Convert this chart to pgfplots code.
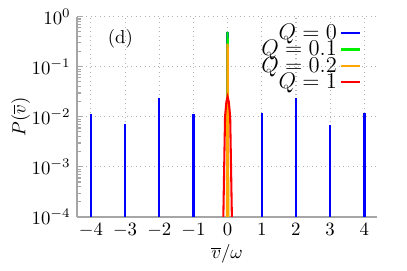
\documentclass[border=0pt]{standalone}
\usepackage{pgfplots}
\pgfplotsset{compat=1.18}
\definecolor{qorange}{RGB}{255,165,0}
\definecolor{qgreen}{RGB}{0,240,0}
\begin{document}
\begin{tikzpicture}
\begin{axis}[
  scale only axis,
  width=159.4pt, height=106.5pt,
  ymode=log,
  xmin=-4.4, xmax=4.37,
  ymin=1e-4, ymax=1,
  axis lines*=left,
  axis line style={gray!70, line width=0.9pt},
  xtick={-4,-3,-2,-1,0,1,2,3,4},
  ytick={1e-4,1e-3,1e-2,1e-1,1},
  xtick style={draw=none},
  ytick style={gray!70, line width=0.6pt},
  major tick length=2.5pt, minor tick length=2pt,
  tick align=inside,
  grid=major,
  major grid style={gray!60, dotted, line width=0.6pt},
  xlabel={$\overline{v}/\omega$},
  ylabel={$P(\overline{v})$},
  xlabel style={yshift=3pt},
  ylabel style={yshift=-6pt},
  unbounded coords=jump,
  legend style={draw=none, fill=none, at={(0.947,0.98)}, anchor=north east,
    row sep=-4.0pt, inner sep=0pt, nodes={inner sep=1.5pt}, font=\large},
  legend cell align=right,
  legend plot pos=right,
  legend image code/.code={\draw[#1, line width=1.2pt] (0pt,0pt) -- (0.35cm,0pt);},
]
\addplot[blue, line width=1.3pt] coordinates {
(-4,1e-5) (-4,0.0115) (-4,nan)
(-3,1e-5) (-3,0.0073) (-3,nan)
(-2,1e-5) (-2,0.024) (-2,nan)
(-1,1e-5) (-1,0.0115) (-1,nan)
(0,1e-5) (0,0.5) (0,nan)
(1,1e-5) (1,0.0117) (1,nan)
(2,1e-5) (2,0.024) (2,nan)
(3,1e-5) (3,0.0069) (3,nan)
(4,1e-5) (4,0.0117)
};
\addlegendentry{$Q=0$}
\addplot[qgreen, line width=1.2pt] coordinates {
(-0.012,1e-5) (0,0.5) (0.012,1e-5)
};
\addlegendentry{$Q=0.1$}
\addplot[qorange, line width=1.2pt] coordinates {
(-0.025,1e-5) (0,0.29) (0.025,1e-5)
};
\addlegendentry{$Q=0.2$}
\addplot[red, line width=1.1pt] coordinates {
(-0.15,1e-5) (-0.125,1e-4) (-0.1,1e-3) (-0.075,0.01) (-0.035,0.02) (0,0.025)
(0.035,0.02) (0.075,0.01) (0.1,1e-3) (0.125,1e-4) (0.15,1e-5)
};
\addlegendentry{$Q=1$}
\node at (axis cs:-3.14,0.37) {(d)};
\end{axis}
\path (current axis.south west) ++(-41.1pt,-28.7pt);
\path (current axis.north east) ++(16pt,8.9pt);
\end{tikzpicture}
\end{document}
